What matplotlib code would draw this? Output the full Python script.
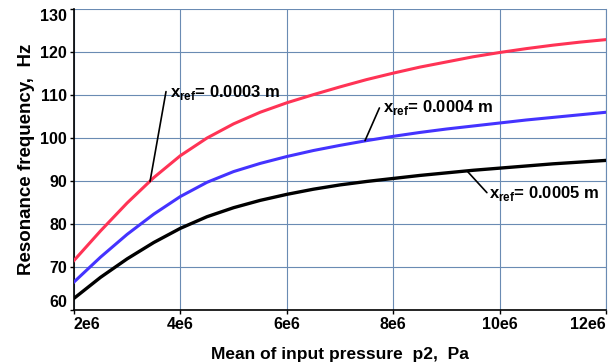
import matplotlib
matplotlib.use("Agg")
import matplotlib.pyplot as plt
import numpy as np

plt.rcParams['font.family'] = ['Liberation Sans', 'DejaVu Sans']
plt.rcParams['mathtext.fontset'] = 'custom'
plt.rcParams['mathtext.rm'] = 'Liberation Sans:bold'
plt.rcParams['mathtext.bf'] = 'Liberation Sans:bold'

# Mean input pressure p2, Pa
p2 = np.array([2.0, 2.5, 3.0, 3.5, 4.0, 4.5, 5.0, 5.5, 6.0, 6.5, 7.0,
               7.5, 8.0, 8.5, 9.0, 9.5, 10.0, 10.5, 11.0, 11.5, 12.0]) * 1e6

# resonance frequency, Hz
f_0003 = [71.5, 78.4, 84.9, 90.8, 95.9, 100.0, 103.3, 106.0, 108.2, 110.1, 111.9,
          113.6, 115.1, 116.5, 117.7, 118.9, 119.9, 120.8, 121.6, 122.3, 122.9]
f_0004 = [66.5, 72.3, 77.6, 82.3, 86.4, 89.7, 92.2, 94.1, 95.7, 97.1, 98.3,
          99.4, 100.4, 101.3, 102.1, 102.8, 103.5, 104.2, 104.8, 105.4, 106.0]
f_0005 = [62.7, 67.6, 71.9, 75.7, 79.0, 81.7, 83.8, 85.5, 86.9, 88.1, 89.1,
          89.9, 90.6, 91.3, 91.9, 92.5, 93.0, 93.5, 94.0, 94.4, 94.8]

xticks = [2e6, 4e6, 6e6, 8e6, 10e6, 12e6]
xticklabels = ['2e6', '4e6', '6e6', '8e6', '10e6', '12e6']
yticks = [60, 70, 80, 90, 100, 110, 120, 130]

fig = plt.figure(figsize=(6.11, 3.63), dpi=100)
ax = fig.add_axes([0.121, 0.146, 0.871, 0.829])

grid_c = '#6a8bb3'
ax.plot(p2, f_0003, color='#ff3355', lw=2.2, zorder=3)
ax.plot(p2, f_0004, color='#4433ff', lw=2.2, zorder=3)
ax.plot(p2, f_0005, color='black', lw=2.4, zorder=3)

ax.set_xlim(2e6, 12e6)
ax.set_ylim(60, 130)
ax.set_xticks(xticks)
ax.set_xticklabels(xticklabels)
ax.set_yticks(yticks)
ax.grid(True, color=grid_c, lw=0.8)
ax.set_axisbelow(True)

for lab in ax.get_xticklabels() + ax.get_yticklabels():
    lab.set_fontweight('bold')
    lab.set_fontsize(11.5)
ax.get_xticklabels()[0].set_ha('left')
ax.get_xticklabels()[-1].set_ha('right')
ax.get_yticklabels()[0].set_va('bottom')
ax.get_yticklabels()[-1].set_va('top')
ax.tick_params(axis='both', length=3, width=1, pad=2)

ax.spines['top'].set_visible(False)
ax.spines['right'].set_color(grid_c)
ax.spines['right'].set_linewidth(0.8)
ax.spines['left'].set_linewidth(1.2)
ax.spines['bottom'].set_linewidth(1.2)

ax.set_xlabel('Mean of input pressure  p2,  Pa', fontsize=12.5, fontweight='bold', labelpad=11)
ax.set_ylabel('Resonance frequency,  Hz', fontsize=13.5, fontweight='bold', labelpad=4)

# annotations with leader lines: (text, point on curve, line end, text position)
notes = [
    (r'x$_{\mathbf{ref}}$= 0.0003 m', (3.43e6, 89.9), (3.73e6, 110.8), (3.80e6, 108.4)),
    (r'x$_{\mathbf{ref}}$= 0.0004 m', (7.47e6, 99.4), (7.74e6, 107.0), (7.80e6, 104.8)),
    (r'x$_{\mathbf{ref}}$= 0.0005 m', (9.39e6, 92.3), (9.76e6, 87.3), (9.80e6, 84.8)),
]
for txt, xy, xyend, xytext in notes:
    ax.annotate('', xy=xy, xytext=xyend,
                arrowprops=dict(arrowstyle='-', color='black', lw=1.2,
                                shrinkA=0, shrinkB=0))
    ax.text(xytext[0], xytext[1], txt, fontsize=12, fontweight='bold',
            ha='left', va='bottom')

fig.savefig('out.png', dpi=100)
